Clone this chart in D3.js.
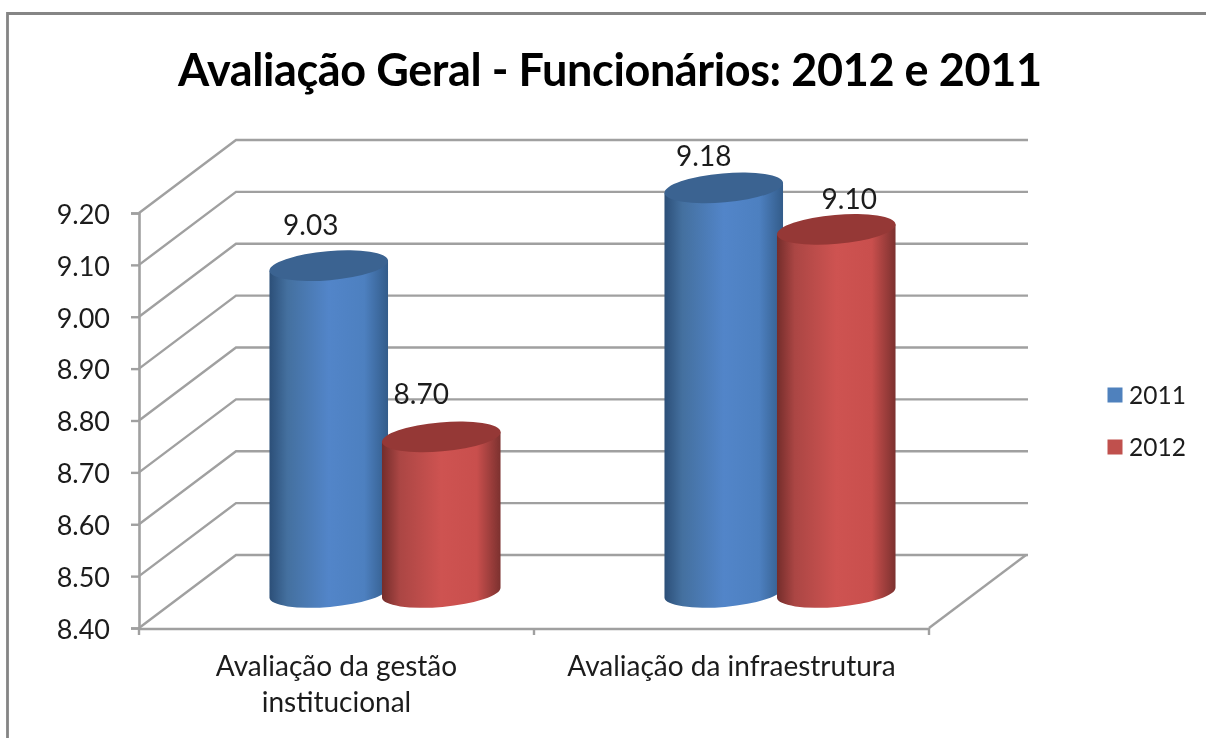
<!DOCTYPE html>
<html><head><meta charset="utf-8">
<script src="https://cdn.jsdelivr.net/npm/d3@7"></script>
<style>html,body{margin:0;padding:0;background:#fff}svg{display:block;filter:blur(0.55px)}text{font-family:Lato,"Open Sans",sans-serif;fill:#1c1c1c}</style>
</head><body><svg id="c" width="1206" height="738"></svg>
<script>
const titleText = "Avaliação Geral - Funcionários: 2012 e 2011";
const categories = ["Avaliação da gestão institucional", "Avaliação da infraestrutura"];
const categoryLines = [["Avaliação da gestão", "institucional"], ["Avaliação da infraestrutura"]];
const seriesNames = ["2011", "2012"];
const values2011 = [9.03, 9.18];
const values2012 = [8.70, 9.10];
const yTicks = [8.4, 8.5, 8.6, 8.7, 8.8, 8.9, 9.0, 9.1, 9.2];

const svg = d3.select("#c");
const y = d3.scaleLinear().domain([8.4, 9.2]).range([628, 213]);
const x = d3.scaleBand().domain(categories).range([139, 929]);
const depth = {dx: 97, dy: -73};
const gridColor = "#a0a0a0";

// frame
svg.append("path").attr("d", "M7.5,738V13.5H1206").attr("fill", "none").attr("stroke", "#858585").attr("stroke-width", 2.8);

// gradients
const defs = svg.append("defs");
const grads = {"2011": ["#2c4f78", "#44709f", "#5285c9", "#4d80c0", "#335c8a"], "2012": ["#742d2b", "#ab4644", "#ce5351", "#c94f4d", "#7c312f"]};
seriesNames.forEach(s => {
  const g = defs.append("linearGradient").attr("id", "g" + s);
  [0, .15, .5, .8, 1].forEach((o, i) => g.append("stop").attr("offset", o).attr("stop-color", grads[s][i]));
});
const topColor = {"2011": "#3b6391", "2012": "#953836"};

// walls
const grid = svg.append("g").attr("fill", "none").attr("stroke", gridColor).attr("stroke-width", 2.4);
yTicks.forEach(t => {
  const yy = y(t);
  grid.append("path").attr("d", d3.line()([[139, yy], [139 + depth.dx, yy + depth.dy], [1028, yy + depth.dy]]));
});
grid.append("line").attr("x1", 929).attr("y1", 628).attr("x2", 1026).attr("y2", 555);

// axes
const yAxis = svg.append("g").attr("transform", "translate(139,0)")
  .call(d3.axisLeft(y).tickValues(yTicks).tickFormat(d3.format(".2f")).tickSize(8).tickPadding(21));
const xAxis = svg.append("g").attr("transform", "translate(0,629)")
  .call(d3.axisBottom(x).tickValues([]).tickSize(0));
[139, 534, 929].forEach(px => xAxis.append("line").attr("x1", px).attr("x2", px).attr("y1", -1).attr("y2", 6).attr("stroke", gridColor).attr("stroke-width", 2.4));
svg.selectAll(".domain").attr("stroke", gridColor).attr("stroke-width", 2.6);
yAxis.selectAll(".tick line").attr("stroke", gridColor).attr("stroke-width", 2.4);
yAxis.selectAll("text").attr("font-size", 27).attr("dy", "0.38em").style("fill", "#1c1c1c");
xAxis.select(".domain").attr("d", "M138,0H930");

categoryLines.forEach((lines, i) => {
  const cx = x(categories[i]) + x.bandwidth() / 2;
  const t = svg.append("text").attr("text-anchor", "middle").attr("font-size", 28);
  lines.forEach((l, j) => t.append("tspan").attr("x", cx).attr("y", 676 + j * 36).text(l));
});

// cylinders
const barW = 112.5, rx = 59.5, ry = 14.5, tilt = -5;
const baseShift = {x: depth.dx / 2, y: depth.dy / 2 + 1};
const baseExtra = 0;
const labelOffset = {"2011": [[-18, -31], [-20, -22]], "2012": [[-20, -33], [13, -20]]};
function cyl(s, vals, sign) {
  vals.forEach((v, i) => {
    const cx = x(categories[i]) + x.bandwidth() / 2 + baseShift.x + sign * barW / 2;
    const yb = y(8.4) + baseShift.y + baseExtra, yt = y(v) + baseShift.y;
    const a = tilt * Math.PI / 180;
    const lx = -rx * Math.cos(a), ly = -rx * Math.sin(a);
    const d = `M${cx + lx},${yt + ly}L${cx + lx},${yb + ly}A${rx},${ry} ${tilt} 0 0 ${cx - lx},${yb - ly}L${cx - lx},${yt - ly}Z`;
    svg.append("path").attr("d", d).attr("fill", `url(#g${s})`);
    svg.append("ellipse").attr("cx", cx).attr("cy", yt).attr("rx", rx).attr("ry", ry)
      .attr("transform", `rotate(${tilt} ${cx} ${yt})`).attr("fill", topColor[s]);
    const o = labelOffset[s][i];
    svg.append("text").attr("x", cx + o[0]).attr("y", yt + o[1]).attr("text-anchor", "middle").attr("font-size", 28).text(d3.format(".2f")(v));
  });
}
cyl("2011", values2011, -1);
cyl("2012", values2012, 1);

// title
svg.append("text").attr("x", 610).attr("y", 86).attr("text-anchor", "middle").attr("font-size", 45).attr("font-weight", 700)
  .attr("textLength", 864).attr("lengthAdjust", "spacing").style("fill", "#000").text(titleText);

// legend
const legendColor = {"2011": "#4f81bd", "2012": "#c0504d"};
seriesNames.forEach((s, i) => {
  const yy = 395 + i * 52;
  svg.append("rect").attr("x", 1107.5).attr("y", yy - 7.5).attr("width", 15).attr("height", 15).attr("fill", legendColor[s]);
  svg.append("text").attr("x", 1129).attr("y", yy + 9).attr("font-size", 24.5).text(s);
});
</script></body></html>
